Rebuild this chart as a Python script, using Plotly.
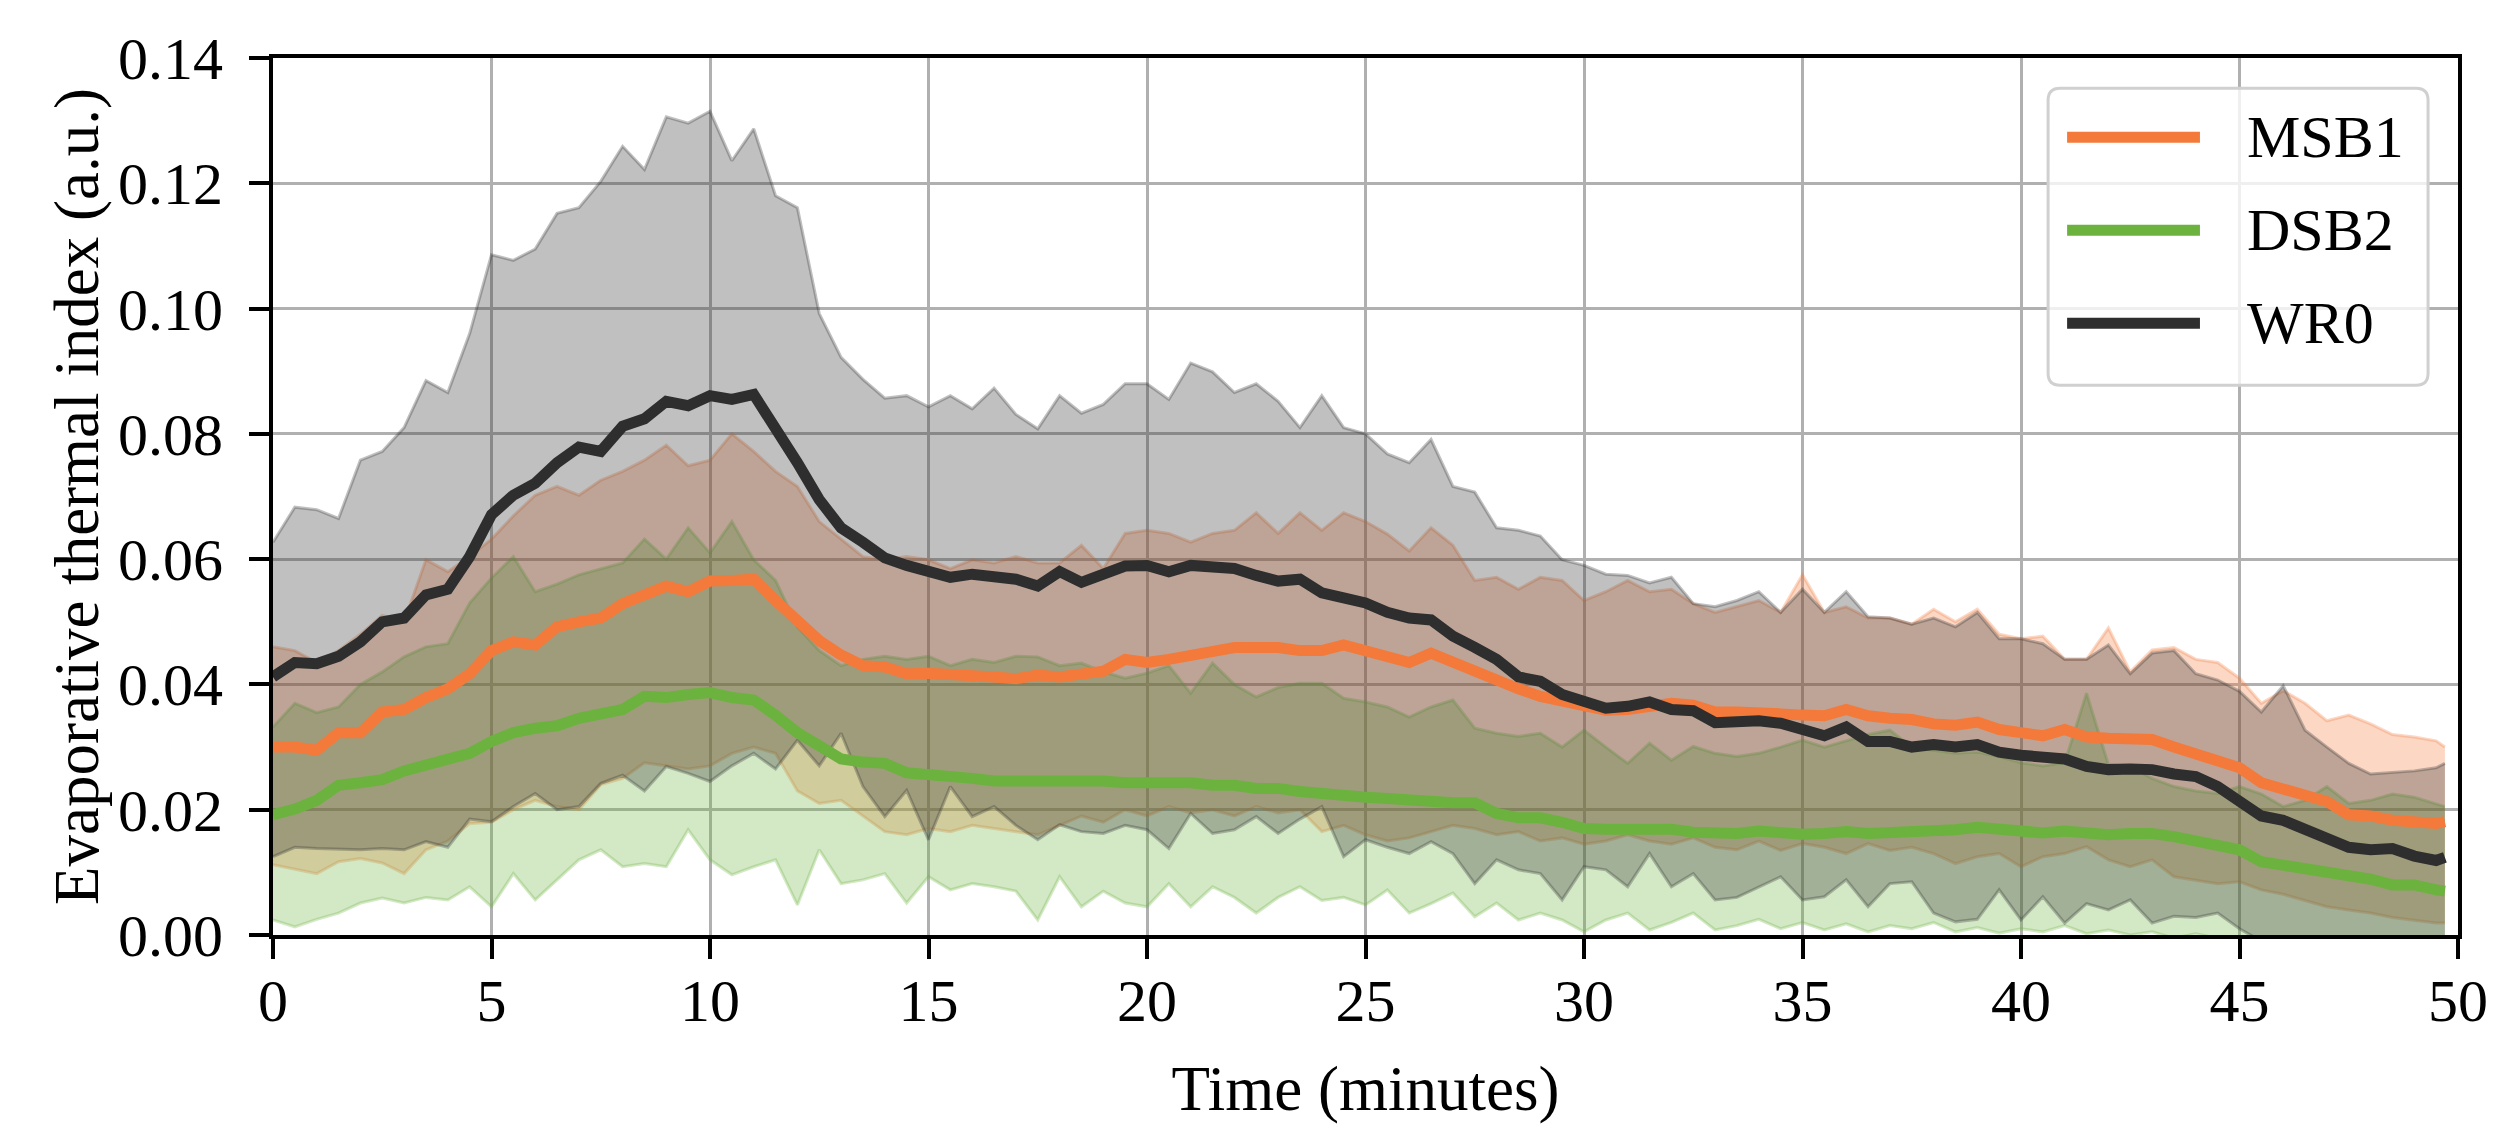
import plotly.graph_objects as go

# Time axis (minutes), sampled every half minute up to the last record
time_min = [i * 0.5 for i in range(100)] + [49.7]

# MSB1 mean and band
msb1_mean = [0.0300, 0.0300, 0.0295, 0.0323, 0.0323, 0.0356, 0.0360, 0.0379, 0.0393, 0.0417,
             0.0454, 0.0468, 0.0463, 0.0492, 0.0500, 0.0506, 0.0529, 0.0543, 0.0557, 0.0548,
             0.0565, 0.0566, 0.0568, 0.0534, 0.0500, 0.0470, 0.0447, 0.0430, 0.0428, 0.0417,
             0.0418, 0.0417, 0.0415, 0.0412, 0.0409, 0.0415, 0.0412, 0.0417, 0.0421, 0.0440,
             0.0435, 0.0440, 0.0447, 0.0454, 0.0459, 0.0459, 0.0459, 0.0454, 0.0454, 0.0463,
             0.0454, 0.0445, 0.0435, 0.0450, 0.0435, 0.0421, 0.0409, 0.0393, 0.0381, 0.0375,
             0.0365, 0.0359, 0.0360, 0.0365, 0.0370, 0.0367, 0.0356, 0.0356, 0.0356, 0.0353,
             0.0351, 0.0350, 0.0360, 0.0350, 0.0346, 0.0344, 0.0337, 0.0335, 0.0340, 0.0328,
             0.0323, 0.0318, 0.0328, 0.0316, 0.0314, 0.0312, 0.0312, 0.0300, 0.0290, 0.0281,
             0.0267, 0.0243, 0.0234, 0.0225, 0.0213, 0.0192, 0.0190, 0.0183, 0.0180, 0.0178,
             0.0181]
msb1_upper = [0.0460, 0.0454, 0.0435, 0.0454, 0.0480, 0.0510, 0.0500, 0.0599, 0.0580, 0.0604,
              0.0632, 0.0669, 0.0702, 0.0716, 0.0702, 0.0726, 0.0740, 0.0758, 0.0782, 0.0749,
              0.0758, 0.0800, 0.0772, 0.0740, 0.0716, 0.0660, 0.0632, 0.0604, 0.0599, 0.0604,
              0.0599, 0.0585, 0.0599, 0.0594, 0.0604, 0.0594, 0.0594, 0.0622, 0.0585, 0.0641,
              0.0646, 0.0641, 0.0627, 0.0641, 0.0646, 0.0674, 0.0641, 0.0674, 0.0646, 0.0674,
              0.0660, 0.0640, 0.0613, 0.0650, 0.0622, 0.0566, 0.0571, 0.0552, 0.0571, 0.0566,
              0.0534, 0.0548, 0.0566, 0.0548, 0.0552, 0.0529, 0.0515, 0.0524, 0.0534, 0.0515,
              0.0575, 0.0515, 0.0524, 0.0506, 0.0506, 0.0496, 0.0520, 0.0500, 0.0520, 0.0480,
              0.0473, 0.0477, 0.0440, 0.0440, 0.0490, 0.0420, 0.0455, 0.0459, 0.0440, 0.0435,
              0.0410, 0.0370, 0.0390, 0.0370, 0.0342, 0.0351, 0.0337, 0.0320, 0.0316, 0.0310,
              0.0300]
msb1_lower = [0.0112, 0.0105, 0.0098, 0.0117, 0.0122, 0.0115, 0.0098, 0.0136, 0.0150, 0.0178,
              0.0180, 0.0200, 0.0215, 0.0205, 0.0200, 0.0240, 0.0250, 0.0275, 0.0270, 0.0265,
              0.0270, 0.0290, 0.0300, 0.0290, 0.0230, 0.0210, 0.0215, 0.0190, 0.0165, 0.0160,
              0.0170, 0.0165, 0.0175, 0.0170, 0.0165, 0.0160, 0.0175, 0.0190, 0.0180, 0.0200,
              0.0190, 0.0205, 0.0195, 0.0200, 0.0190, 0.0205, 0.0195, 0.0200, 0.0165, 0.0175,
              0.0160, 0.0150, 0.0155, 0.0165, 0.0175, 0.0170, 0.0160, 0.0165, 0.0150, 0.0155,
              0.0145, 0.0150, 0.0160, 0.0150, 0.0145, 0.0155, 0.0140, 0.0136, 0.0150, 0.0135,
              0.0146, 0.0140, 0.0130, 0.0146, 0.0135, 0.0140, 0.0130, 0.0114, 0.0125, 0.0130,
              0.0109, 0.0125, 0.0130, 0.0141, 0.0120, 0.0109, 0.0120, 0.0093, 0.0088, 0.0082,
              0.0085, 0.0072, 0.0065, 0.0055, 0.0045, 0.0040, 0.0035, 0.0028, 0.0024, 0.0019,
              0.0019]

# DSB2 mean and band
dsb2_mean = [0.0192, 0.0201, 0.0215, 0.0239, 0.0243, 0.0248, 0.0262, 0.0272, 0.0281, 0.0290,
             0.0309, 0.0323, 0.0330, 0.0334, 0.0346, 0.0351, 0.0360, 0.0381, 0.0379, 0.0384,
             0.0387, 0.0379, 0.0375, 0.0351, 0.0323, 0.0302, 0.0281, 0.0276, 0.0274, 0.0259,
             0.0257, 0.0256, 0.0250, 0.0246, 0.0246, 0.0246, 0.0248, 0.0250, 0.0246, 0.0243,
             0.0243, 0.0246, 0.0243, 0.0239, 0.0239, 0.0234, 0.0234, 0.0229, 0.0225, 0.0225,
             0.0220, 0.0218, 0.0215, 0.0213, 0.0211, 0.0211, 0.0194, 0.0187, 0.0187, 0.0180,
             0.0170, 0.0169, 0.0169, 0.0169, 0.0169, 0.0164, 0.0162, 0.0162, 0.0166, 0.0162,
             0.0161, 0.0162, 0.0165, 0.0162, 0.0163, 0.0163, 0.0166, 0.0168, 0.0172, 0.0168,
             0.0166, 0.0163, 0.0166, 0.0163, 0.0160, 0.0162, 0.0162, 0.0157, 0.0150, 0.0145,
             0.0136, 0.0117, 0.0112, 0.0108, 0.0103, 0.0098, 0.0089, 0.0080, 0.0080, 0.0072,
             0.0070]
dsb2_upper = [0.0332, 0.0370, 0.0355, 0.0364, 0.0400, 0.0420, 0.0444, 0.0460, 0.0465, 0.0530,
              0.0570, 0.0604, 0.0548, 0.0560, 0.0575, 0.0585, 0.0594, 0.0632, 0.0600, 0.0650,
              0.0610, 0.0660, 0.0599, 0.0566, 0.0492, 0.0454, 0.0430, 0.0440, 0.0445, 0.0440,
              0.0445, 0.0430, 0.0440, 0.0435, 0.0445, 0.0444, 0.0430, 0.0434, 0.0420, 0.0410,
              0.0418, 0.0430, 0.0386, 0.0434, 0.0400, 0.0380, 0.0395, 0.0402, 0.0402, 0.0378,
              0.0372, 0.0364, 0.0348, 0.0364, 0.0375, 0.0330, 0.0322, 0.0317, 0.0322, 0.0300,
              0.0327, 0.0300, 0.0274, 0.0306, 0.0279, 0.0301, 0.0290, 0.0285, 0.0290, 0.0300,
              0.0311, 0.0300, 0.0310, 0.0320, 0.0327, 0.0300, 0.0295, 0.0290, 0.0292, 0.0285,
              0.0275, 0.0270, 0.0275, 0.0386, 0.0272, 0.0269, 0.0250, 0.0237, 0.0230, 0.0226,
              0.0237, 0.0225, 0.0205, 0.0215, 0.0237, 0.0210, 0.0215, 0.0225, 0.0220, 0.0210,
              0.0205]
dsb2_lower = [0.0024, 0.0013, 0.0025, 0.0035, 0.0051, 0.0059, 0.0051, 0.0060, 0.0056, 0.0077,
              0.0045, 0.0098, 0.0056, 0.0088, 0.0120, 0.0136, 0.0109, 0.0114, 0.0109, 0.0168,
              0.0120, 0.0096, 0.0109, 0.0120, 0.0048, 0.0136, 0.0082, 0.0088, 0.0098, 0.0051,
              0.0093, 0.0072, 0.0082, 0.0077, 0.0070, 0.0024, 0.0093, 0.0045, 0.0070, 0.0051,
              0.0045, 0.0082, 0.0045, 0.0077, 0.0060, 0.0035, 0.0060, 0.0077, 0.0055, 0.0060,
              0.0048, 0.0072, 0.0035, 0.0050, 0.0067, 0.0029, 0.0051, 0.0024, 0.0035, 0.0024,
              0.0005, 0.0024, 0.0035, 0.0008, 0.0020, 0.0035, 0.0008, 0.0015, 0.0025, 0.0010,
              0.0020, 0.0008, 0.0018, 0.0005, 0.0015, 0.0010, 0.0020, 0.0005, 0.0012, 0.0003,
              0.0010, 0.0005, 0.0015, 0.0002, 0.0008, 0.0000, 0.0005, -0.0005, 0.0002, -0.0005,
              -0.0010, -0.0015, -0.0020, -0.0020, -0.0020, -0.0020, -0.0020, -0.0020, -0.0020, -0.0020,
              -0.0020]

# WR0 mean and band
wr0_mean = [0.0412, 0.0435, 0.0433, 0.0445, 0.0468, 0.0500, 0.0506, 0.0543, 0.0552, 0.0604,
            0.0671, 0.0702, 0.0721, 0.0754, 0.0779, 0.0772, 0.0812, 0.0824, 0.0852, 0.0845,
            0.0861, 0.0855, 0.0863, 0.0810, 0.0754, 0.0695, 0.0650, 0.0627, 0.0602, 0.0590,
            0.0580, 0.0571, 0.0576, 0.0571, 0.0568, 0.0557, 0.0580, 0.0563, 0.0578, 0.0589,
            0.0590, 0.0580, 0.0590, 0.0587, 0.0585, 0.0574, 0.0565, 0.0568, 0.0546, 0.0538,
            0.0530, 0.0515, 0.0506, 0.0503, 0.0477, 0.0459, 0.0440, 0.0412, 0.0405, 0.0384,
            0.0375, 0.0362, 0.0365, 0.0372, 0.0360, 0.0358, 0.0339, 0.0342, 0.0342, 0.0338,
            0.0330, 0.0318, 0.0332, 0.0309, 0.0309, 0.0300, 0.0304, 0.0300, 0.0304, 0.0292,
            0.0287, 0.0284, 0.0281, 0.0269, 0.0264, 0.0265, 0.0264, 0.0257, 0.0253, 0.0237,
            0.0215, 0.0190, 0.0183, 0.0169, 0.0156, 0.0140, 0.0136, 0.0138, 0.0126, 0.0119,
            0.0124]
wr0_upper = [0.0627, 0.0683, 0.0679, 0.0665, 0.0758, 0.0772, 0.0810, 0.0885, 0.0866, 0.0960,
             0.1086, 0.1077, 0.1095, 0.1152, 0.1161, 0.1203, 0.1259, 0.1222, 0.1306, 0.1296,
             0.1315, 0.1236, 0.1287, 0.1180, 0.1161, 0.0992, 0.0922, 0.0887, 0.0857, 0.0861,
             0.0843, 0.0861, 0.0840, 0.0873, 0.0831, 0.0808, 0.0861, 0.0833, 0.0847, 0.0880,
             0.0880, 0.0855, 0.0913, 0.0899, 0.0866, 0.0880, 0.0852, 0.0810, 0.0861, 0.0810,
             0.0800, 0.0768, 0.0754, 0.0791, 0.0716, 0.0707, 0.0650, 0.0646, 0.0637, 0.0599,
             0.0590, 0.0576, 0.0574, 0.0562, 0.0571, 0.0529, 0.0524, 0.0534, 0.0548, 0.0515,
             0.0552, 0.0515, 0.0548, 0.0508, 0.0506, 0.0496, 0.0506, 0.0492, 0.0515, 0.0473,
             0.0473, 0.0465, 0.0440, 0.0440, 0.0463, 0.0417, 0.0450, 0.0454, 0.0417, 0.0407,
             0.0389, 0.0356, 0.0398, 0.0327, 0.0300, 0.0274, 0.0257, 0.0260, 0.0262, 0.0267,
             0.0274]
wr0_lower = [0.0125, 0.0140, 0.0138, 0.0137, 0.0136, 0.0138, 0.0136, 0.0149, 0.0140, 0.0185,
             0.0181, 0.0205, 0.0226, 0.0200, 0.0205, 0.0242, 0.0255, 0.0230, 0.0269, 0.0258,
             0.0245, 0.0270, 0.0290, 0.0265, 0.0311, 0.0270, 0.0322, 0.0237, 0.0189, 0.0231,
             0.0152, 0.0237, 0.0189, 0.0205, 0.0175, 0.0152, 0.0176, 0.0165, 0.0162, 0.0175,
             0.0168, 0.0138, 0.0194, 0.0162, 0.0168, 0.0189, 0.0162, 0.0185, 0.0205, 0.0125,
             0.0152, 0.0140, 0.0130, 0.0149, 0.0130, 0.0082, 0.0120, 0.0104, 0.0098, 0.0056,
             0.0109, 0.0104, 0.0077, 0.0130, 0.0077, 0.0098, 0.0056, 0.0060, 0.0077, 0.0093,
             0.0056, 0.0061, 0.0088, 0.0045, 0.0082, 0.0085, 0.0035, 0.0021, 0.0025, 0.0072,
             0.0024, 0.0061, 0.0019, 0.0050, 0.0040, 0.0056, 0.0019, 0.0030, 0.0028, 0.0035,
             0.0010, -0.0010, -0.0020, -0.0020, -0.0020, -0.0020, -0.0020, -0.0020, -0.0020, -0.0020,
             -0.0020]

series = [
    ('MSB1', msb1_mean, msb1_lower, msb1_upper, (243, 122, 58)),
    ('DSB2', dsb2_mean, dsb2_lower, dsb2_upper, (108, 178, 62)),
    ('WR0', wr0_mean, wr0_lower, wr0_upper, (46, 46, 46)),
]

FONT = 'Liberation Serif'
W, H = 2513, 1139
M_L, M_R, M_T, M_B = 273, 55, 58, 204

fig = go.Figure()

# bands first (fill_between style), lines on top
for name, mean, lower, upper, (r, g, b) in series:
    band = f'rgba({r},{g},{b},0.3)'
    fig.add_scatter(x=time_min, y=lower, mode='lines', line=dict(color=band, width=3),
                    showlegend=False, hoverinfo='skip')
    fig.add_scatter(x=time_min, y=upper, mode='lines', line=dict(color=band, width=3),
                    fill='tonexty', fillcolor=band, showlegend=False, hoverinfo='skip')

for name, mean, lower, upper, (r, g, b) in series:
    fig.add_scatter(x=time_min, y=mean, mode='lines', name=name,
                    line=dict(color=f'rgb({r},{g},{b})', width=11), showlegend=False)

axis_style = dict(showline=True, linewidth=4, linecolor='black', mirror=True,
                  ticks='outside', ticklen=20, tickwidth=4, tickcolor='black',
                  showgrid=True, gridcolor='#b0b0b0', gridwidth=3, zeroline=False,
                  tickfont=dict(family=FONT, size=60, color='black'))

fig.update_layout(
    width=W, height=H,
    margin=dict(l=M_L, r=M_R, t=M_T, b=M_B),
    paper_bgcolor='white', plot_bgcolor='white',
    font=dict(family=FONT, size=60, color='black'),
    xaxis=dict(range=[0, 50], dtick=5, tick0=0, ticklabelstandoff=-10,
               title=dict(text='Time (minutes)', standoff=34,
                          font=dict(family=FONT, size=63)), **axis_style),
    yaxis=dict(range=[0, 0.14], dtick=0.02, tick0=0, tickformat='.2f', ticklabelstandoff=14,
               title=dict(text='Evaporative thermal index (a.u.)', standoff=0,
                          font=dict(family=FONT, size=63)), **axis_style),
)

# legend box drawn in plot-paper coordinates
x0, x1, y0, y1 = 0.8124, 0.9863, 0.6269, 0.9655
rx, ry = 0.0055, 0.0137
box = (f'M {x0 + rx},{y0} L {x1 - rx},{y0} Q {x1},{y0} {x1},{y0 + ry} '
       f'L {x1},{y1 - ry} Q {x1},{y1} {x1 - rx},{y1} L {x0 + rx},{y1} '
       f'Q {x0},{y1} {x0},{y1 - ry} L {x0},{y0 + ry} Q {x0},{y0} {x0 + rx},{y0} Z')
fig.add_shape(type='path', path=box, xref='paper', yref='paper',
              fillcolor='rgba(255,255,255,0.8)', line=dict(color='#d0d0d0', width=3), layer='above')

legend_rows = [0.9096, 0.8036, 0.6976]
for (name, mean, lower, upper, (r, g, b)), ly in zip(series, legend_rows):
    fig.add_shape(type='line', xref='paper', yref='paper', x0=0.8211, x1=0.8819, y0=ly, y1=ly,
                  line=dict(color=f'rgb({r},{g},{b})', width=11), layer='above')
    fig.add_annotation(x=0.9025, y=ly, xref='paper', yref='paper', text=name, showarrow=False,
                       xanchor='left', yanchor='middle',
                       font=dict(family=FONT, size=60, color='black'))

fig.write_html("out.html", config={'displayModeBar': False},
               post_script="document.body.style.margin='0';")
